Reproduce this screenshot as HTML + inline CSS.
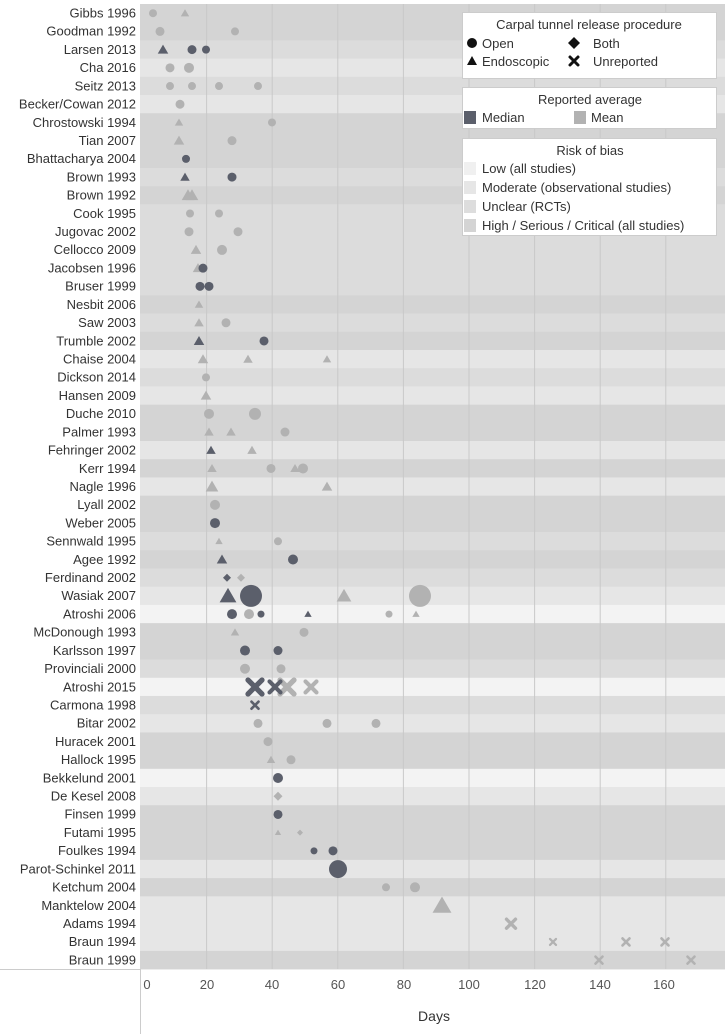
<!DOCTYPE html>
<html><head><meta charset="utf-8"><style>
body{margin:0;background:#fff;}
svg{display:block;font-family:"Liberation Sans",sans-serif;}
</style></head><body>
<svg width="725" height="1034" viewBox="0 0 725 1034" xmlns="http://www.w3.org/2000/svg">
<g id="bands"></g>
<g id="grid" stroke="#c9c9c9" stroke-width="1"></g>
<g id="labels" font-size="13" fill="#333" text-anchor="end"></g>
<g id="pts"></g>
<line x1="0" y1="969.5" x2="140" y2="969.5" stroke="#ccc"/>
<line x1="140.5" y1="969" x2="140.5" y2="1034" stroke="#ccc"/>
<g font-size="13" fill="#555" text-anchor="middle">
<text x="147" y="989">0</text><text x="207" y="989">20</text><text x="272" y="989">40</text><text x="338" y="989">60</text><text x="404" y="989">80</text><text x="469" y="989">100</text><text x="535" y="989">120</text><text x="600" y="989">140</text><text x="664" y="989">160</text>
</g>
<text x="434" y="1021" font-size="14" fill="#333" text-anchor="middle">Days</text>
<g font-size="13" fill="#333">
<rect x="462.5" y="12.5" width="254" height="66" fill="#fff" stroke="#ccc"/>
<text x="589" y="29" text-anchor="middle">Carpal tunnel release procedure</text>
<circle cx="472" cy="43" r="5" fill="#111"/><text x="482" y="48">Open</text>
<polygon points="574,37 580,43 574,49 568,43" fill="#111"/><text x="593" y="48">Both</text>
<polygon points="472,56 477,65 467,65" fill="#111"/><text x="482" y="66">Endoscopic</text>
<path d="M570,57L578,65M578,57L570,65" stroke="#111" stroke-width="3" stroke-linecap="round"/><text x="593" y="66">Unreported</text>
<rect x="462.5" y="87.5" width="254" height="41" fill="#fff" stroke="#ccc"/>
<text x="590" y="104" text-anchor="middle">Reported average</text>
<rect x="464" y="111" width="12" height="13" fill="#5b5f6b"/><text x="482" y="122">Median</text>
<rect x="574" y="111" width="12" height="13" fill="#b2b2b2"/><text x="591" y="122">Mean</text>
<rect x="462.5" y="138.5" width="254" height="97" fill="#fff" stroke="#ccc"/>
<text x="590" y="155" text-anchor="middle">Risk of bias</text>
<rect x="464" y="162" width="12" height="13" fill="#f0f0f0"/><text x="482" y="173">Low (all studies)</text>
<rect x="464" y="181" width="12" height="13" fill="#e6e6e6"/><text x="482" y="192">Moderate (observational studies)</text>
<rect x="464" y="200" width="12" height="13" fill="#dddddd"/><text x="482" y="211">Unclear (RCTs)</text>
<rect x="464" y="219" width="12" height="13" fill="#d4d4d4"/><text x="482" y="230">High / Serious / Critical (all studies)</text>
</g>
<script>
const names=["Gibbs 1996","Goodman 1992","Larsen 2013","Cha 2016","Seitz 2013","Becker/Cowan 2012","Chrostowski 1994","Tian 2007","Bhattacharya 2004","Brown 1993","Brown 1992","Cook 1995","Jugovac 2002","Cellocco 2009","Jacobsen 1996","Bruser 1999","Nesbit 2006","Saw 2003","Trumble 2002","Chaise 2004","Dickson 2014","Hansen 2009","Duche 2010","Palmer 1993","Fehringer 2002","Kerr 1994","Nagle 1996","Lyall 2002","Weber 2005","Sennwald 1995","Agee 1992","Ferdinand 2002","Wasiak 2007","Atroshi 2006","McDonough 1993","Karlsson 1997","Provinciali 2000","Atroshi 2015","Carmona 1998","Bitar 2002","Huracek 2001","Hallock 1995","Bekkelund 2001","De Kesel 2008","Finsen 1999","Futami 1995","Foulkes 1994","Parot-Schinkel 2011","Ketchum 2004","Manktelow 2004","Adams 1994","Braun 1994","Braun 1999"];
const band="HHUMUMHHHUHUUUUUHUHMUMHHMHMHHUHUMLHHULUMHHLMHHHMHMMMH";
const bc={H:"#d4d4d4",U:"#dcdcdc",M:"#e6e6e6",L:"#f3f3f3"};
const D="#5b5f6b",G="#b2b2b2";
const P=[[0,153,"c",G,4],[0,185,"t",G,4],[1,160,"c",G,4.5],[1,235,"c",G,4],
[2,163,"t",D,5],[2,192,"c",D,4.5],[2,206,"c",D,4],[3,170,"c",G,4.5],[3,189,"c",G,5],
[4,170,"c",G,4],[4,192,"c",G,4],[4,219,"c",G,4],[4,258,"c",G,4],[5,180,"c",G,4.5],
[6,179,"t",G,4],[6,272,"c",G,4],[7,179,"t",G,5],[7,232,"c",G,4.5],[8,186,"c",D,4],
[9,185,"t",D,4.5],[9,232,"c",D,4.5],[10,188,"t",G,6],[10,192,"t",G,6],[11,190,"c",G,4],[11,219,"c",G,4],
[12,189,"c",G,4.5],[12,238,"c",G,4.5],[13,196,"t",G,5],[13,222,"c",G,5],[14,198,"t",G,5],[14,203,"c",D,4.5],
[15,200,"c",D,4.5],[15,209,"c",D,4.5],[16,199,"t",G,4],[17,199,"t",G,4.5],[17,226,"c",G,4.5],
[18,199,"t",D,5],[18,264,"c",D,4.5],[19,203,"t",G,5],[19,248,"t",G,4.5],[19,327,"t",G,4],
[20,206,"c",G,4],[21,206,"t",G,5],[22,209,"c",G,5],[22,255,"c",G,6],[23,209,"t",G,4.5],[23,231,"t",G,4.5],[23,285,"c",G,4.5],
[24,211,"t",D,4.5],[24,252,"t",G,4.5],[25,212,"t",G,4.5],[25,271,"c",G,4.5],[25,295,"t",G,4.5],[25,303,"c",G,5],
[26,212,"t",G,6],[26,327,"t",G,5],[27,215,"c",G,5],[28,215,"c",D,5],[29,219,"t",G,3.5],[29,278,"c",G,4],
[30,222,"t",D,5],[30,293,"c",D,5],[31,227,"d",D,4],[31,241,"d",G,4],[32,228,"t",D,8],[32,251,"c",D,11],[32,344,"t",G,7],[32,420,"c",G,11],
[33,232,"c",D,5],[33,249,"c",G,5],[33,261,"c",D,3.5],[33,308,"t",D,3.5],[33,389,"c",G,3.5],[33,416,"t",G,3.5],
[34,235,"t",G,4],[34,304,"c",G,4.5],[35,245,"c",D,5],[35,278,"c",D,4.5],[36,245,"c",G,5],[36,281,"c",G,4.5],
[37,287,"x",G,7],[37,311,"x",G,5.5],[37,255,"x",D,7],[37,275,"x",D,5.5],[38,255,"x",D,3.5],
[39,258,"c",G,4.5],[39,327,"c",G,4.5],[39,376,"c",G,4.5],[40,268,"c",G,4.5],[41,271,"t",G,4],[41,291,"c",G,4.5],
[42,278,"c",D,5],[43,278,"d",G,4.5],[44,278,"c",D,4.5],[45,278,"t",G,3],[45,300,"d",G,3],
[46,314,"c",D,3.5],[46,333,"c",D,4.5],[47,338,"c",D,9],[48,386,"c",G,4],[48,415,"c",G,5],
[49,442,"t",G,9],[50,511,"x",G,4.5],[51,553,"x",G,3],[51,626,"x",G,3.5],[51,665,"x",G,3.5],[52,599,"x",G,3.5],[52,691,"x",G,3.5]];
const NS="http://www.w3.org/2000/svg";
function el(p,t,a,txt){const e=document.createElementNS(NS,t);for(const k in a)e.setAttribute(k,a[k]);if(txt)e.textContent=txt;document.getElementById(p).appendChild(e);return e;}
const RH=18.21,T=4;
names.forEach((n,i)=>{el("bands","rect",{x:140,y:T+i*RH,width:585,height:RH+0.3,fill:bc[band[i]]});
el("labels","text",{x:136,y:T+i*RH+13.5},n);});
for(let k=1;k<=8;k++){const x=141+k*65.6;el("grid","line",{x1:x,y1:T,x2:x,y2:969});}
P.forEach(([r,x,s,c,z])=>{const y=T+r*RH+9.2;
if(s=="c")el("pts","circle",{cx:x,cy:y,r:z,fill:c});
else if(s=="t")el("pts","polygon",{points:`${x},${y-z} ${x+z*1.05},${y+z*0.8} ${x-z*1.05},${y+z*0.8}`,fill:c});
else if(s=="d")el("pts","polygon",{points:`${x},${y-z} ${x+z},${y} ${x},${y+z} ${x-z},${y}`,fill:c});
else{el("pts","path",{d:`M${x-z},${y-z}L${x+z},${y+z}M${x+z},${y-z}L${x-z},${y+z}`,stroke:c,"stroke-width":z*0.75,"stroke-linecap":"round"});}
});
</script>
</svg>
</body></html>
